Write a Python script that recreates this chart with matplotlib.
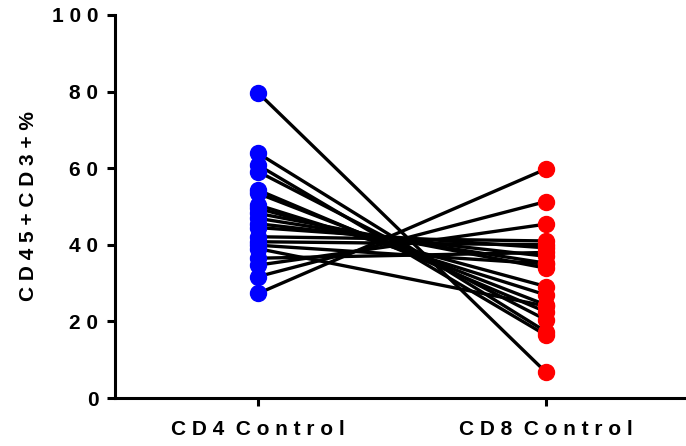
import matplotlib.pyplot as plt

groups = ["CD4 Control", "CD8 Control"]
cd4 = [79.7, 63.9, 60.8, 59.1, 54.3, 53.4, 50.4, 49.5, 48.2, 46.9, 45.5,
       44.5, 42.1, 40.8, 39.9, 39.0, 36.5, 34.7, 31.7, 27.3]
cd8 = [6.7, 17.3, 16.4, 20.4, 22.5, 24.3, 26.9, 29.1, 33.9, 35.2, 37.0,
       39.2, 41.0, 40.0, 35.0, 24.0, 38.0, 45.4, 51.3, 59.8]
yticks = [0, 20, 40, 60, 80, 100]


def spaced(s):
    # prism-style wide letter spacing
    return "  ".join(" ".join(w) for w in s.split(" "))


plt.rcParams['font.family'] = ['Liberation Sans', 'DejaVu Sans']
plt.rcParams['font.weight'] = 'bold'

fig = plt.figure(figsize=(6.86, 4.46), dpi=100)
ax = fig.add_axes([115 / 686, 48 / 446, 571 / 686, 383 / 446])

for a, b in zip(cd4, cd8):
    ax.plot([0, 1], [a, b], color='black', lw=2.4, zorder=2)
ax.plot([0] * len(cd4), cd4, 'o', color='#0000ff', ms=11.5, zorder=3)
ax.plot([1] * len(cd8), cd8, 'o', color='#ff0000', ms=11.5, zorder=3)

ax.set_xlim(-0.497, 1.486)
ax.set_ylim(0, 100)
ax.set_xticks([0, 1])
ax.set_xticklabels([spaced(g) for g in groups], fontsize=15, fontweight='bold')
ax.set_yticks(yticks)
ax.set_yticklabels([spaced(str(t)) for t in yticks], fontsize=15, fontweight='bold')
ax.set_ylabel(spaced("CD45+CD3+%"), fontsize=15, fontweight='bold', labelpad=10)

for s in ['top', 'right']:
    ax.spines[s].set_visible(False)
for s in ['left', 'bottom']:
    ax.spines[s].set_linewidth(2.2)
ax.tick_params(width=2.2, length=6, direction='out', pad=6)
ax.tick_params(axis='x', pad=10)

plt.savefig("out.png", dpi=100)
